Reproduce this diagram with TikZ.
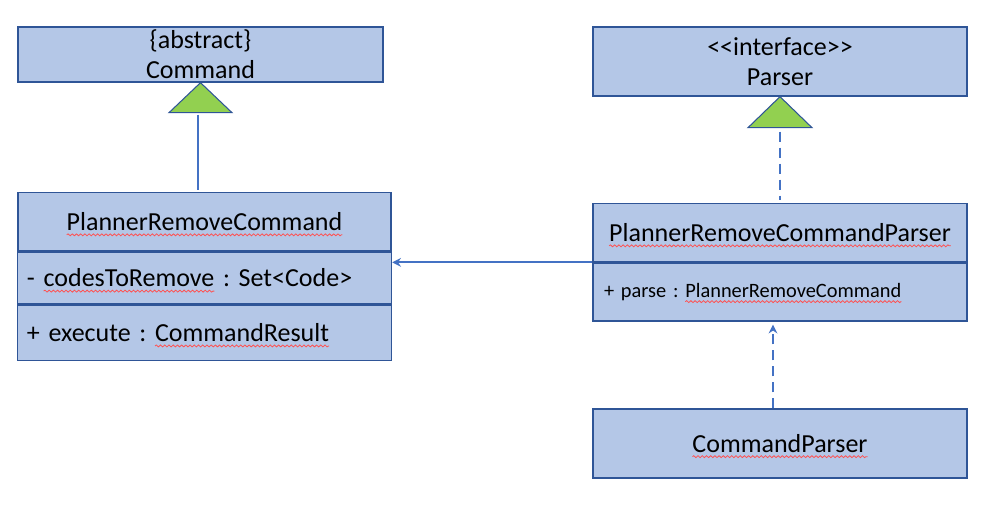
\documentclass[tikz,border=0pt]{standalone}
\usepackage{fontspec}
\setmainfont{Carlito}
\usetikzlibrary{arrows.meta,positioning,decorations.pathmorphing}
\frenchspacing

\definecolor{boxfill}{HTML}{B4C7E7}
\definecolor{boxline}{HTML}{2F5597}
\definecolor{linkblue}{HTML}{4472C4}
\definecolor{trigreen}{HTML}{92D050}
\definecolor{spellred}{HTML}{FF5050}

\tikzset{
    classbox/.style={draw=boxline, fill=boxfill, line width=0.75pt, inner sep=0pt,
        minimum width=7.48cm, align=center, font=\fontsize{14.8}{17}\selectfont},
    memberbox/.style={classbox, inner xsep=0.18cm, text width=7.1cm, align=left},
    link/.style={draw=linkblue, line width=1.1pt},
    dashlink/.style={link, dash pattern=on 5.7pt off 3.4pt},
    gentri/.style={fill=trigreen, draw=boxline, line width=0.6pt, line join=miter},
    spellwave/.style={draw=spellred, line width=0.45pt, decorate,
        decoration={snake, amplitude=0.55pt, segment length=2.4pt}}
}

% wavy spell-check underline
\newsavebox\spellbox
\newcommand\spell[1]{\sbox\spellbox{#1}%
    \rlap{\tikz[overlay, baseline=0pt]\draw[spellwave] (0pt,-2.4pt) -- (\wd\spellbox,-2.4pt);}%
    \usebox\spellbox}

\begin{document}
\begin{tikzpicture}
        \useasboundingbox (0,0) rectangle (20.06,-10.32);

        % Abstract class and interface
        \node[classbox, minimum width=7.3cm, minimum height=1.1cm] (command) at (4.01,-1.09) {\{abstract\}\\Command};
        \node[classbox, minimum height=1.38cm] (parser) at (15.6,-1.23) {<\kern0pt<interface>\kern0pt>\\Parser};

        % PlannerRemoveCommand
        \node[classbox, minimum width=7.46cm, minimum height=1.16cm, anchor=north] (prc) at (4.09,-3.84) {\spell{PlannerRemoveCommand}};
        \node[memberbox, minimum height=1.04cm, below=0pt of prc] (prcattr) {- \spell{codesToRemove} : Set<Code>};
        \node[memberbox, minimum height=1.1cm, below=0pt of prcattr] (prcop) {+ execute : \spell{CommandResult}};

        % PlannerRemoveCommandParser
        \node[classbox, minimum height=1.16cm, anchor=north] (prcp) at (15.6,-4.06) {\spell{PlannerRemoveCommandParser}};
        \node[memberbox, inner xsep=0.22cm, text width=7.04cm, minimum height=1.16cm, below=0pt of prcp,
            font=\fontsize{11.6}{14}\selectfont] (prcpop) {+ parse : \spell{PlannerRemoveCommand}};

        % CommandParser
        \node[classbox, minimum height=1.38cm] (cmdparser) at (15.6,-8.87) {\spell{CommandParser}};

        % Generalisation
        \coordinate (cmdbase) at ([yshift=-0.6cm]command.south);
        \draw[gentri] (command.south) -- ([xshift=-0.63cm]cmdbase) -- ([xshift=0.63cm]cmdbase) -- cycle;
        \draw[link] ([xshift=-0.05cm,yshift=-0.04cm]cmdbase) -- ([xshift=-0.05cm,yshift=0.04cm]cmdbase |- prc.north);

        % Realisation
        \coordinate (parserbase) at ([yshift=-0.62cm]parser.south);
        \draw[gentri] (parser.south) -- ([xshift=-0.64cm]parserbase) -- ([xshift=0.64cm]parserbase) -- cycle;
        \draw[dashlink] ([yshift=-0.08cm]parserbase) -- ([yshift=0.06cm]parserbase |- prcp.north);

        % Association and dependency
        \draw[link, -{Stealth[length=5pt,width=5pt]}] (prcp.south west) -- (prcp.south west -| prcattr.east);
        \draw[dashlink, -{Stealth[length=5pt,width=5pt]}] ([xshift=-0.14cm]cmdparser.north) -- ([xshift=-0.14cm,yshift=-0.06cm]prcpop.south);

    \end{tikzpicture}
\end{document}
